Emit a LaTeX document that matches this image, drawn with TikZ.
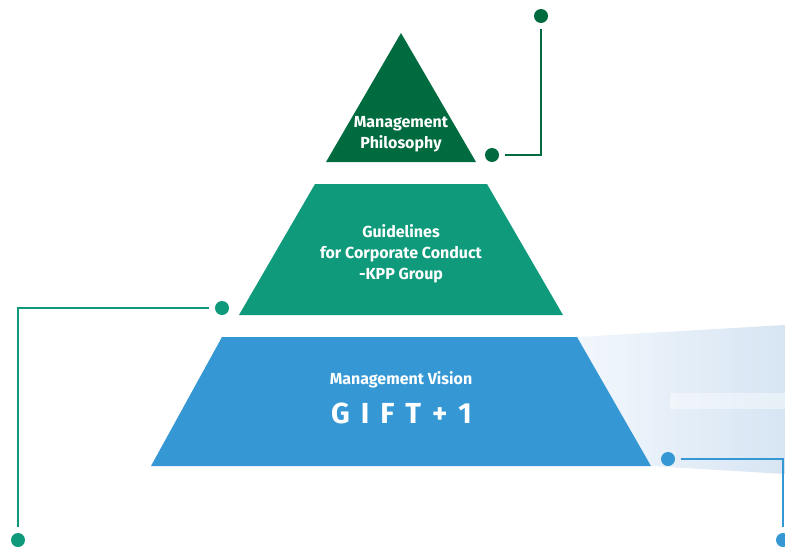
\documentclass[tikz,border=0pt]{standalone}
\usepackage{fontspec}
\setsansfont{Fira Sans}
\usetikzlibrary{positioning}
\definecolor{kppdark}{RGB}{0,107,63}
\definecolor{kppteal}{RGB}{14,154,123}
\definecolor{kppblue}{RGB}{53,152,212}
\definecolor{fadeL}{RGB}{242,247,252}
\definecolor{fadeR}{RGB}{215,229,243}
\newcommand{\gap}{\hspace{11pt}}
\tikzset{
  dot/.style={circle,fill=#1,inner sep=0pt,minimum size=14pt},
  lead/.style={draw=#1,line width=2pt,shorten <=6pt,shorten >=6pt},
  lbl/.style={text=white,align=center,inner sep=0pt,font=\sffamily\bfseries\fontsize{16}{21}\selectfont}
}
\begin{document}
\begin{tikzpicture}[x=1pt,y=-1pt]
\useasboundingbox (0,0) rectangle (785,549);
% light beam behind the base
\shade[left color=fadeL,right color=fadeR] (577,337) -- (785,325) -- (785,474) -- (651,466) -- cycle;
\fill[white,opacity=.4] (670,393) rectangle (785,409);
% the three levels
\fill[kppdark] (401,33) -- (476,162) -- (326,162) -- cycle;
\fill[kppteal] (315,184) -- (487,184) -- (563,315) -- (239,315) -- cycle;
\fill[kppblue] (222,337) -- (577,337) -- (651,466) -- (151,466) -- cycle;
\node[lbl] (philo) at (401,134.5) {Management\\Philosophy};
\node[lbl] (guide) at (401,253.5) {Guidelines\\for Corporate Conduct\\-KPP Group};
\node[lbl] (vision) at (401,380) {Management Vision};
\node[lbl,font=\sffamily\bfseries\fontsize{29}{30}\selectfont] (gift) at (401.5,413) {G\gap I\gap F\gap T\gap +\gap 1};
% call-out leads
\node[dot=kppdark] (d1) at (541,16) {};
\node[dot=kppdark] (d2) at (492,155) {};
\node[dot=kppteal] (d3) at (222,308) {};
\node[dot=kppteal] (d4) at (18,540) {};
\node[dot=kppblue] (d5) at (668,459) {};
\node[dot=kppblue] (d6) at (783,540) {};
\draw[lead=kppdark] (d1) |- (d2);
\draw[lead=kppteal] (d3) -| (d4);
\draw[lead=kppblue] (d5) -| (d6);
\end{tikzpicture}
\end{document}
